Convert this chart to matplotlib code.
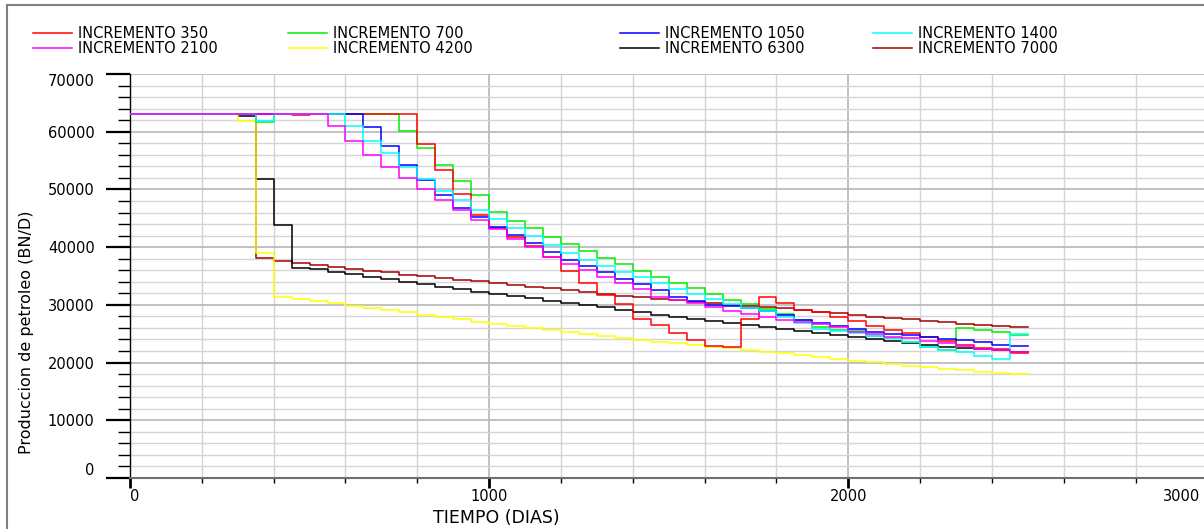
import matplotlib
matplotlib.use('Agg')
import matplotlib.pyplot as plt
from matplotlib.ticker import MultipleLocator
from matplotlib.lines import Line2D
from matplotlib.transforms import ScaledTranslation

# inicio de cada paso de tiempo (dias); el ultimo paso termina en 2500
dias = [0, 50, 100, 150, 200, 250, 300, 350, 400, 450,
        500, 550, 600, 650, 700, 750, 800, 850, 900, 950,
        1000, 1050, 1100, 1150, 1200, 1250, 1300, 1350, 1400, 1450,
        1500, 1550, 1600, 1650, 1700, 1750, 1800, 1850, 1900, 1950,
        2000, 2050, 2100, 2150, 2200, 2250, 2300, 2350, 2400, 2450]
dia_final = 2500

# produccion de petroleo (BN/D) por caso
inc_350 = [63000, 63000, 63000, 63000, 63000, 63000, 63000, 63000, 63000, 62850,
           63000, 63000, 63000, 63000, 63000, 63000, 57820, 53370, 49180, 45500,
           43300, 41700, 40200, 38240, 35920, 33730, 31710, 30150, 27500, 26510,
           25070, 23910, 22900, 22700, 27550, 31300, 30400, 29110, 28800, 27950,
           27150, 26340, 25650, 25070, 24400, 23800, 23100, 22600, 22300, 21600]
inc_700 = [63000, 63000, 63000, 63000, 63000, 63000, 63000, 61630, 63000, 63000,
           63000, 63000, 63000, 63000, 63000, 60070, 57130, 54200, 51500, 49080,
           46150, 44590, 43240, 41710, 40520, 39250, 38180, 37000, 35920, 34770,
           33730, 32870, 31880, 30900, 30150, 29300, 28500, 27300, 26110, 25700,
           25470, 24610, 24200, 23620, 22750, 22250, 26050, 25650, 25250, 24830]
inc_1050 = [63000, 63000, 63000, 63000, 63000, 63000, 63000, 63000, 63000, 63000,
            63000, 63000, 63000, 60770, 57480, 54250, 51610, 49040, 46730, 45230,
            43500, 42110, 40720, 39220, 37830, 36680, 35610, 34480, 33560, 32580,
            31420, 30670, 29980, 29860, 29510, 28990, 28240, 27380, 26800, 26300,
            25760, 25300, 25000, 24700, 24380, 24090, 23910, 23570, 23100, 22870]
inc_1400 = [63000, 63000, 63000, 63000, 63000, 63000, 63000, 61860, 63000, 63000,
            63000, 63000, 60970, 58420, 56250, 53850, 51810, 49800, 48100, 46440,
            44900, 43400, 41930, 40370, 39070, 37830, 36650, 35750, 34770, 33730,
            32750, 31880, 30960, 30100, 29400, 28940, 27950, 26800, 25760, 25400,
            25070, 24670, 24200, 23620, 22750, 22250, 21850, 21140, 20680, 24900]
inc_2100 = [63000, 63000, 63000, 63000, 63000, 63000, 63000, 63000, 63000, 63000,
            63000, 60950, 58450, 56000, 53920, 51980, 50030, 48230, 46500, 44650,
            43100, 41470, 40030, 38300, 37140, 36040, 34820, 33800, 32750, 31420,
            30840, 30270, 29690, 28970, 28330, 27900, 27450, 26950, 26600, 26150,
            25250, 24900, 24490, 24210, 23740, 23330, 22920, 22300, 22180, 21890]
inc_4200 = [63000, 63000, 63000, 63000, 63000, 63000, 61920, 38930, 31420, 31020,
            30670, 30270, 29860, 29510, 29170, 28750, 28300, 27900, 27500, 27090,
            26690, 26400, 26050, 25650, 25300, 24950, 24610, 24320, 23910, 23620,
            23330, 22990, 22750, 22450, 22180, 21890, 21600, 21260, 20910, 20620,
            20330, 20040, 19750, 19460, 19180, 18890, 18660, 18420, 18190, 17970]
inc_6300 = [63000, 63000, 63000, 63000, 63000, 63000, 62650, 51760, 43840, 36450,
            36160, 35750, 35290, 34830, 34430, 33910, 33560, 33150, 32750, 32300,
            31880, 31480, 31130, 30720, 30270, 29980, 29580, 29110, 28710, 28190,
            27900, 27550, 27260, 26800, 26510, 26110, 25760, 25420, 25070, 24780,
            24380, 24030, 23740, 23450, 23100, 22750, 22580, 22350, 22180, 21780]
inc_7000 = [63000, 63000, 63000, 63000, 63000, 63000, 63000, 38070, 37600, 37310,
            36910, 36510, 36220, 35920, 35640, 35230, 34950, 34660, 34360, 34050,
            33730, 33440, 33150, 32870, 32580, 32230, 31880, 31590, 31360, 31070,
            30790, 30500, 30270, 30060, 29860, 29630, 29400, 29110, 28760, 28590,
            28300, 27950, 27670, 27500, 27210, 26980, 26750, 26570, 26400, 26170]

etiquetas = ['INCREMENTO 350', 'INCREMENTO 700', 'INCREMENTO 1050', 'INCREMENTO 1400',
             'INCREMENTO 2100', 'INCREMENTO 4200', 'INCREMENTO 6300', 'INCREMENTO 7000']
series = [inc_350, inc_700, inc_1050, inc_1400, inc_2100, inc_4200, inc_6300, inc_7000]
colores = ['#ff0000', '#00ee00', '#0000ff', '#00ffff', '#ff00ff', '#ffff00', '#000000', '#a00000']
orden = [5, 4, 6, 7, 9, 3, 2, 1]  # magenta encima en la meseta

fig = plt.figure(figsize=(12.04, 5.29), dpi=100)
ax = fig.add_axes([130 / 1204, 1 - 478 / 529, 1077.45 / 1204, 404 / 529])

x = dias + [dia_final]
lineas = []
for vals, lab, c, z in zip(series, etiquetas, colores, orden):
    y = vals + [vals[-1]]
    l, = ax.step(x, y, where='post', color=c, lw=1.1, label=lab, zorder=z)
    lineas.append(l)

ax.set_xlim(0, 3000)
ax.set_ylim(0, 70000)
ax.set_xticks([0, 1000, 2000, 3000])
ax.set_yticks([0, 10000, 20000, 30000, 40000, 50000, 60000, 70000])
ax.xaxis.set_minor_locator(MultipleLocator(200))
ax.yaxis.set_minor_locator(MultipleLocator(2000))

ax.grid(which='major', color='#bcbcc0', lw=1.3)
ax.grid(which='minor', color='#d6d3da', lw=1.0)
ax.set_axisbelow(True)

for s in ['top', 'right']:
    ax.spines[s].set_visible(False)
ax.spines['left'].set_color('black')
ax.spines['left'].set_linewidth(1.0)
ax.spines['bottom'].set_color('#707070')
ax.spines['bottom'].set_linewidth(1.5)

ax.tick_params(axis='y', which='major', length=17, width=1.6, pad=8.5, labelsize=10.5)
ax.tick_params(axis='y', which='minor', length=8.6, width=1.0)
ax.tick_params(axis='x', which='major', length=7.2, width=2.0, pad=1.0, labelsize=10.5)
ax.tick_params(axis='x', which='minor', length=3.6, width=1.0)

xl = ax.get_xticklabels()
xl[0].set_ha('left')
xl[-1].set_ha('right')
xl[-1].set_transform(xl[-1].get_transform() + ScaledTranslation(-7 / 100, 0, fig.dpi_scale_trans))
yl = ax.get_yticklabels()
yl[0].set_va('bottom')
yl[-1].set_va('top')

ax.set_xlabel('TIEMPO (DIAS)', fontsize=12.5, va='center')
ax.xaxis.set_label_coords(0.34, -0.099)
ax.set_ylabel('Produccion de petroleo (BN/D)', fontsize=11.5, va='center')
ax.yaxis.set_label_coords(-0.0956, 0.361)

# leyenda en 4 columnas de 2 filas
col_x = [33 / 1204, 288 / 1204, 620 / 1204, 873 / 1204]
for i, cx in enumerate(col_x):
    fig.legend(handles=[lineas[i], lineas[i + 4]], loc='center left',
               bbox_to_anchor=(cx, 1 - 41 / 529), frameon=False, fontsize=10.5,
               borderpad=0, borderaxespad=0, handlelength=2.67,
               handletextpad=0.41, labelspacing=0.0)

# marco gris de la figura
fig.add_artist(Line2D([6.5 / 1204, 6.5 / 1204], [0, 1 - 4.5 / 529], color='#808080', lw=1.5))
fig.add_artist(Line2D([6.5 / 1204, 1], [1 - 4.5 / 529, 1 - 4.5 / 529], color='#808080', lw=1.5))

fig.savefig('out.png', dpi=100)
